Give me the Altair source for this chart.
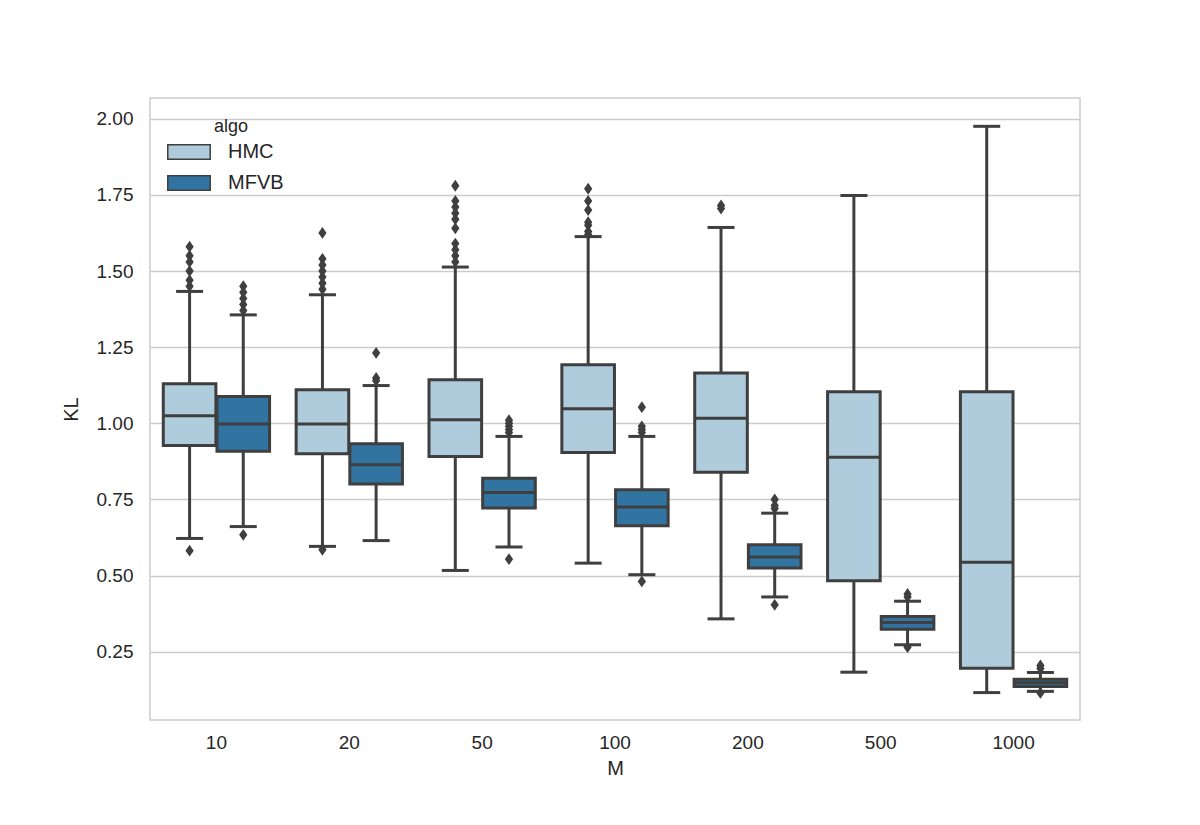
import altair as alt
import pandas as pd

M_levels = ["10", "20", "50", "100", "200", "500", "1000"]
algos = ["HMC", "MFVB"]

# HMC box statistics
hmc_lo = [0.622, 0.596, 0.517, 0.541, 0.358, 0.183, 0.116]
hmc_q1 = [0.927, 0.900, 0.891, 0.904, 0.839, 0.483, 0.196]
hmc_med = [1.025, 0.998, 1.012, 1.048, 1.017, 0.889, 0.544]
hmc_q3 = [1.130, 1.110, 1.143, 1.192, 1.165, 1.104, 1.104]
hmc_hi = [1.433, 1.422, 1.513, 1.613, 1.643, 1.748, 1.975]
hmc_out = [
    [0.582, 1.45, 1.47, 1.50, 1.53, 1.55, 1.58],
    [0.585, 1.44, 1.46, 1.48, 1.50, 1.52, 1.54, 1.625],
    [1.53, 1.55, 1.57, 1.59, 1.64, 1.67, 1.69, 1.71, 1.73, 1.78],
    [1.62, 1.63, 1.65, 1.66, 1.70, 1.73, 1.77],
    [1.705, 1.715],
    [],
    [],
]

# MFVB box statistics
mfvb_lo = [0.661, 0.615, 0.594, 0.503, 0.430, 0.273, 0.120]
mfvb_q1 = [0.908, 0.801, 0.722, 0.664, 0.525, 0.324, 0.136]
mfvb_med = [0.998, 0.864, 0.773, 0.725, 0.561, 0.346, 0.148]
mfvb_q3 = [1.088, 0.933, 0.820, 0.782, 0.601, 0.366, 0.160]
mfvb_hi = [1.356, 1.124, 0.957, 0.957, 0.705, 0.416, 0.182]
mfvb_out = [
    [0.634, 1.37, 1.39, 1.41, 1.43, 1.45],
    [1.14, 1.149, 1.231],
    [0.554, 0.97, 0.98, 0.99, 1.00, 1.01],
    [0.481, 0.97, 0.98, 0.99, 1.053],
    [0.404, 0.72, 0.73, 0.75],
    [0.265, 0.43, 0.44],
    [0.115, 0.195, 0.205],
]

GRAY = "#3f3f3f"
COLORS = ["#aeccdb", "#3274a1"]
FONT = "Liberation Sans"

box_rows = []
out_rows = []
for algo, lo, q1, med, q3, hi, outs in [
    ("HMC", hmc_lo, hmc_q1, hmc_med, hmc_q3, hmc_hi, hmc_out),
    ("MFVB", mfvb_lo, mfvb_q1, mfvb_med, mfvb_q3, mfvb_hi, mfvb_out),
]:
    for i, m in enumerate(M_levels):
        box_rows.append(dict(M=m, algo=algo, lo=lo[i], q1=q1[i], med=med[i], q3=q3[i], hi=hi[i]))
        for v in outs[i]:
            out_rows.append(dict(M=m, algo=algo, v=v))

box_df = pd.DataFrame(box_rows)
out_df = pd.DataFrame(out_rows)

x_enc = alt.X(
    "M:N",
    sort=M_levels,
    scale=alt.Scale(paddingInner=0.2, paddingOuter=0.1),
    axis=alt.Axis(title="M", labelAngle=0, ticks=False, grid=False, domain=False,
                  labelPadding=13, titlePadding=6),
)
xo_enc = alt.XOffset("algo:N", sort=algos, scale=alt.Scale(paddingInner=0.02, paddingOuter=0))
y_scale = alt.Scale(domain=[0.026, 2.068], nice=False, zero=False)
y_axis = alt.Axis(title="KL", values=[0.25, 0.5, 0.75, 1.0, 1.25, 1.5, 1.75, 2.0], format=".2f",
                  ticks=False, domain=False, labelPadding=17, titlePadding=15)

base = alt.Chart(box_df).encode(x=x_enc, xOffset=xo_enc)

whisk = base.mark_rule(color=GRAY, strokeWidth=3, opacity=1).encode(
    y=alt.Y("lo:Q", scale=y_scale, axis=y_axis), y2="hi:Q"
)
cap_lo = base.mark_tick(color=GRAY, thickness=3, size=27, orient="horizontal", opacity=1).encode(
    y=alt.Y("lo:Q", scale=y_scale)
)
cap_hi = base.mark_tick(color=GRAY, thickness=3, size=27, orient="horizontal", opacity=1).encode(
    y=alt.Y("hi:Q", scale=y_scale)
)
box = base.mark_bar(stroke=GRAY, strokeWidth=3, opacity=1).encode(
    y=alt.Y("q1:Q", scale=y_scale),
    y2="q3:Q",
    color=alt.Color(
        "algo:N",
        sort=algos,
        scale=alt.Scale(domain=algos, range=COLORS),
        legend=alt.Legend(
            title="algo",
            orient="none",
            legendX=29,
            legendY=20,
            titleAnchor="middle",
            symbolType="M-2.83,-0.98H2.83V0.98H-2.83Z",
            symbolSize=225,
            symbolStrokeColor=GRAY,
            symbolStrokeWidth=1.5,
            symbolOpacity=1,
            labelFontSize=20,
            titleFontSize=18,
            titleFontWeight="normal",
            labelColor="#262626",
            titleColor="#262626",
            labelFont=FONT,
            titleFont=FONT,
            rowPadding=9,
            labelOffset=29,
            titlePadding=6,
        ),
    ),
)
median = base.mark_tick(color=GRAY, thickness=3, size=52, orient="horizontal", opacity=1).encode(
    y=alt.Y("med:Q", scale=y_scale)
)
outliers = alt.Chart(out_df).mark_point(
    shape="M0,-1L0.7,0L0,1L-0.7,0Z", filled=True, color=GRAY, opacity=1, size=140
).encode(x=x_enc, xOffset=xo_enc, y=alt.Y("v:Q", scale=y_scale))

chart = (
    alt.layer(whisk, cap_lo, cap_hi, box, median, outliers)
    .properties(
        width=930,
        height=622,
        autosize=alt.AutoSizeParams(type="none"),
        padding={"left": 150, "top": 98, "right": 120, "bottom": 105},
        background="white",
    )
    .configure_view(stroke="#cccccc", strokeWidth=1.5)
    .configure_axis(
        labelFont=FONT,
        titleFont=FONT,
        labelFontSize=19,
        titleFontSize=20,
        titleFontWeight="normal",
        labelColor="#262626",
        titleColor="#262626",
        gridColor="#cccccc",
        gridWidth=1.5,
    )
)

chart.save("out.html", embed_options={"renderer": "svg", "actions": False})
